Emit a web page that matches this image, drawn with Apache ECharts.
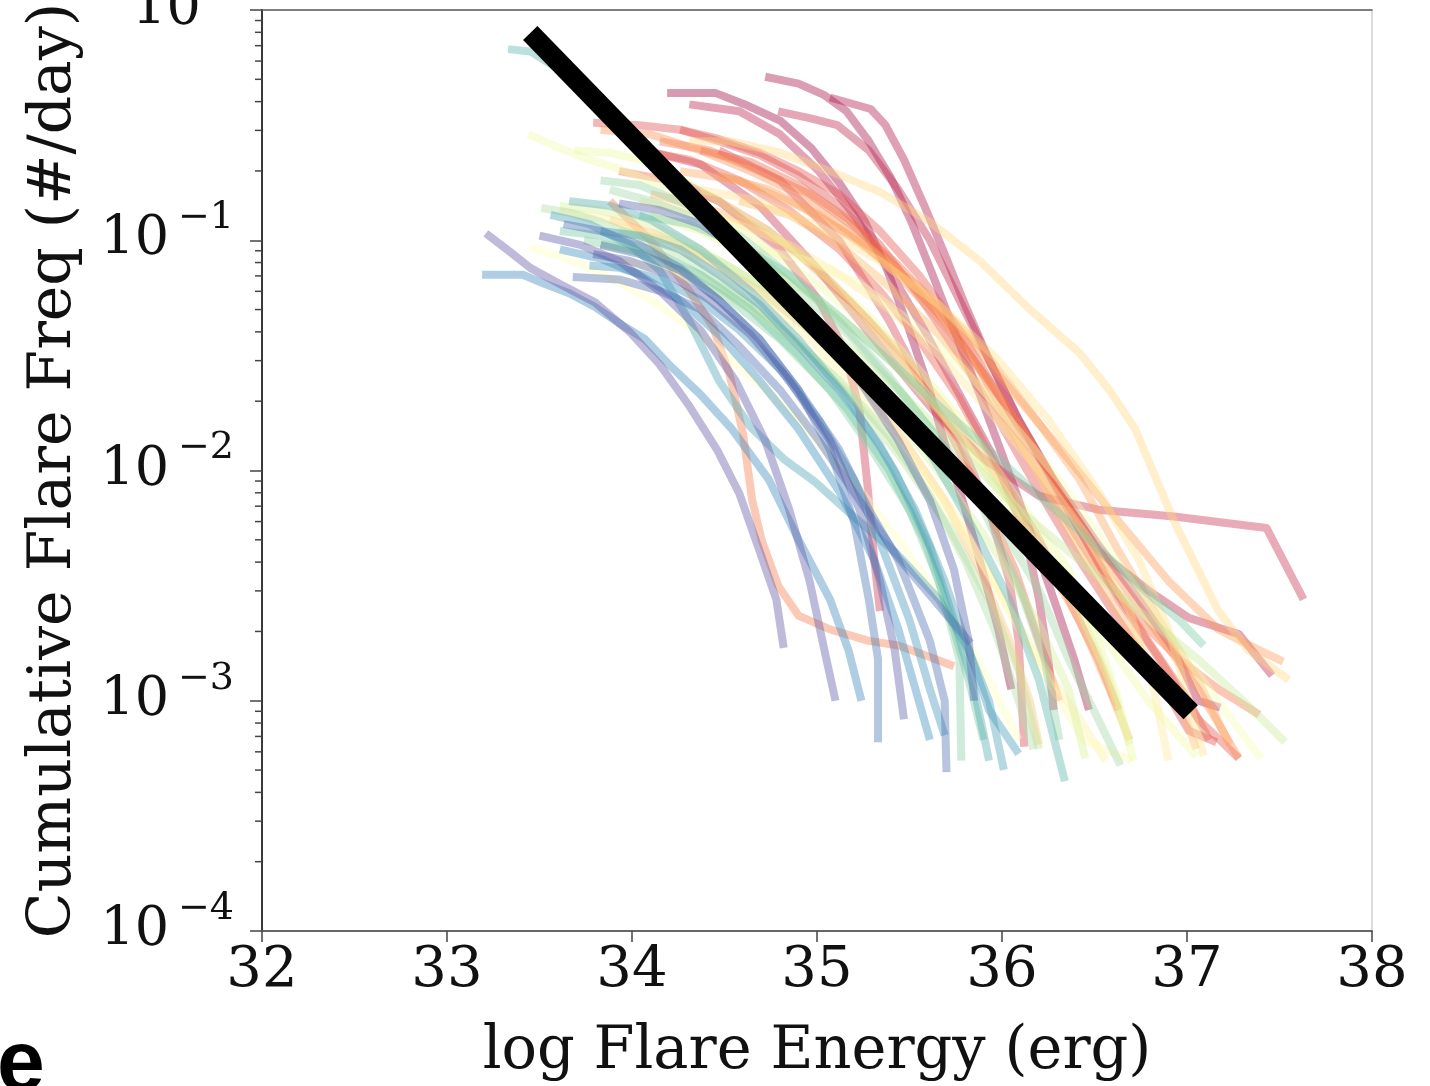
<!DOCTYPE html>
<html><head><meta charset="utf-8">
<script src="https://cdn.jsdelivr.net/npm/echarts@6/dist/echarts.min.js"></script>
<style>html,body{margin:0;padding:0;background:#fff;}#c{width:1430px;height:1086px;}</style>
</head><body><div id="c"></div>
<script>
// x: log10 flare energy (erg); y: log10 cumulative flare frequency (#/day)
const xRange = [32, 38];
const yRange = [1e-4, 1];

const redCurves = [
  [[34.19,-0.36],[34.45,-0.36],[34.61,-0.41],[34.80,-0.48],[34.97,-0.60],[35.12,-0.75],[35.26,-0.92],[35.38,-1.13],[35.49,-1.37],[35.60,-1.63],[35.70,-1.91],[35.81,-2.19],[35.90,-2.45],[35.98,-2.69],[36.05,-2.95]],
  [[34.72,-0.29],[34.90,-0.32],[35.04,-0.37],[35.16,-0.44],[35.28,-0.57],[35.40,-0.73],[35.51,-0.92],[35.62,-1.14],[35.74,-1.39],[35.88,-1.67],[36.01,-1.95],[36.15,-2.26],[36.28,-2.56],[36.39,-2.82],[36.47,-3.04]],
  [[35.07,-0.38],[35.29,-0.43],[35.37,-0.50],[35.47,-0.65],[35.58,-0.85],[35.69,-1.06],[35.80,-1.28],[35.93,-1.52],[36.09,-1.78],[36.28,-2.04],[36.50,-2.30],[36.74,-2.56],[36.93,-2.78],[37.06,-3.00],[37.18,-3.03]],
  [[34.31,-0.41],[34.58,-0.44],[34.80,-0.54],[35.01,-0.70],[35.20,-0.89],[35.39,-1.13],[35.58,-1.39],[35.77,-1.67],[35.96,-1.95],[36.12,-2.26],[36.20,-2.56],[36.25,-2.82],[36.28,-3.04]],
  [[34.79,-0.44],[34.96,-0.47],[35.11,-0.50],[35.28,-0.61],[35.44,-0.78],[35.61,-1.00],[35.77,-1.26],[35.93,-1.52],[36.09,-1.78],[36.31,-2.09],[36.52,-2.35],[36.79,-2.52],[37.01,-2.64],[37.16,-2.68],[37.28,-2.71],[37.46,-2.89]],
  [[34.07,-0.61],[34.37,-0.67],[34.69,-0.85],[35.01,-1.13],[35.34,-1.46],[35.63,-1.74],[35.90,-1.95],[36.20,-2.11],[36.52,-2.17],[36.93,-2.20],[37.43,-2.25],[37.63,-2.56]],
  [[34.15,-0.70],[34.47,-0.83],[34.80,-1.04],[35.01,-1.26],[35.15,-1.48],[35.23,-1.74],[35.27,-2.04],[35.31,-2.39],[35.34,-2.61]],
  [[34.47,-0.61],[34.80,-0.74],[35.12,-1.00],[35.39,-1.35],[35.61,-1.69],[35.77,-1.87],[35.93,-2.17],[36.04,-2.48],[36.09,-2.74],[36.12,-3.20]]
];

const salmonCurves = [
  [[33.79,-0.49],[34.04,-0.50],[34.26,-0.52],[34.47,-0.57],[34.69,-0.63],[34.90,-0.72],[35.12,-0.85],[35.34,-1.02],[35.55,-1.24],[35.77,-1.50],[35.98,-1.78],[36.20,-2.09],[36.42,-2.39],[36.63,-2.65],[36.85,-2.91],[37.01,-3.13],[37.16,-3.18]],
  [[34.26,-0.52],[34.47,-0.56],[34.69,-0.62],[34.90,-0.70],[35.12,-0.80],[35.34,-0.96],[35.55,-1.15],[35.77,-1.39],[35.98,-1.67],[36.20,-1.95],[36.42,-2.26],[36.63,-2.56],[36.85,-2.82],[37.06,-3.08],[37.28,-3.25]],
  [[34.04,-0.61],[34.31,-0.65],[34.58,-0.74],[34.85,-0.87],[35.12,-1.04],[35.34,-1.22],[35.55,-1.43],[35.77,-1.69],[35.98,-2.00],[36.20,-2.30],[36.36,-2.56],[36.52,-2.82],[36.63,-3.04]],
  [[34.37,-0.61],[34.64,-0.66],[34.90,-0.76],[35.17,-0.91],[35.44,-1.13],[35.69,-1.35],[35.93,-1.61],[36.15,-1.87],[36.36,-2.17],[36.58,-2.48],[36.79,-2.74],[37.01,-3.00],[37.12,-3.17]],
  [[33.93,-0.70],[34.20,-0.74],[34.47,-0.83],[34.74,-0.96],[35.01,-1.13],[35.28,-1.35],[35.50,-1.56],[35.71,-1.82],[35.90,-2.13],[36.07,-2.43],[36.20,-2.74],[36.31,-3.00]],
  [[34.15,-0.57],[34.42,-0.61],[34.69,-0.70],[34.96,-0.80],[35.23,-0.96],[35.44,-1.11],[35.66,-1.30],[35.88,-1.56],[36.09,-1.87],[36.31,-2.17],[36.52,-2.43],[36.74,-2.65],[36.96,-2.82],[37.17,-2.95],[37.39,-3.06]],
  [[33.88,-0.83],[34.10,-1.00],[34.31,-1.22],[34.44,-1.38],[34.53,-1.59],[34.60,-1.84],[34.65,-2.13],[34.70,-2.30],[34.79,-2.50],[34.90,-2.63],[35.07,-2.69],[35.28,-2.74],[35.44,-2.76],[35.61,-2.81],[35.74,-2.85]]
];

const orangeCurves = [
  [[33.83,-0.52],[34.10,-0.54],[34.37,-0.61],[34.64,-0.70],[34.90,-0.80],[35.17,-0.96],[35.44,-1.15],[35.71,-1.39],[35.98,-1.67],[36.25,-2.00],[36.52,-2.35],[36.79,-2.65],[37.06,-2.95],[37.28,-3.25]],
  [[34.47,-0.72],[34.74,-0.78],[35.01,-0.89],[35.28,-1.04],[35.55,-1.22],[35.82,-1.43],[36.09,-1.69],[36.36,-1.95],[36.63,-2.22],[36.90,-2.48],[37.17,-2.69],[37.39,-2.78],[37.52,-2.83]],
  [[34.26,-0.70],[34.58,-0.74],[34.90,-0.85],[35.23,-1.00],[35.55,-1.20],[35.88,-1.46],[36.15,-1.74],[36.42,-2.04],[36.63,-2.35],[36.85,-2.65],[37.06,-2.91],[37.23,-3.19]],
  [[34.10,-0.80],[34.37,-0.85],[34.64,-0.93],[34.90,-1.06],[35.17,-1.26],[35.44,-1.48],[35.71,-1.74],[35.98,-2.04],[36.20,-2.35],[36.42,-2.65],[36.58,-2.95],[36.69,-3.17]],
  [[34.58,-0.83],[34.85,-0.89],[35.12,-1.02],[35.39,-1.20],[35.66,-1.41],[35.90,-1.65],[36.15,-1.95],[36.36,-2.26],[36.58,-2.56],[36.79,-2.82],[36.96,-3.00],[37.05,-3.21]],
  [[33.88,-0.91],[34.15,-0.98],[34.42,-1.09],[34.69,-1.22],[34.96,-1.39],[35.23,-1.61],[35.47,-1.87],[35.69,-2.13],[35.88,-2.43],[36.04,-2.74],[36.15,-3.00],[36.20,-3.19]]
];

const yellowCurves = [
  [[34.31,-0.57],[34.53,-0.57],[34.80,-0.62],[35.07,-0.70],[35.34,-0.79],[35.61,-0.92],[35.88,-1.09],[36.15,-1.30],[36.42,-1.49],[36.58,-1.65],[36.72,-1.82],[36.83,-2.03],[36.93,-2.22],[37.04,-2.40],[37.17,-2.61],[37.33,-2.78],[37.55,-2.91]],
  [[34.37,-0.78],[34.69,-0.83],[35.01,-0.94],[35.34,-1.09],[35.66,-1.28],[35.98,-1.52],[36.25,-1.78],[36.52,-2.09],[36.74,-2.39],[36.90,-2.69],[37.01,-3.00],[37.09,-3.24]],
  [[34.04,-0.83],[34.31,-0.87],[34.58,-0.93],[34.85,-1.02],[35.12,-1.15],[35.39,-1.30],[35.66,-1.50],[35.93,-1.74],[36.20,-2.00],[36.47,-2.30],[36.69,-2.61],[36.82,-2.95],[36.90,-3.26]],
  [[33.61,-0.87],[33.88,-0.91],[34.15,-1.00],[34.42,-1.11],[34.69,-1.26],[34.96,-1.43],[35.23,-1.65],[35.50,-1.91],[35.77,-2.22],[35.98,-2.52],[36.20,-2.82],[36.42,-3.08],[36.56,-3.26]],
  [[33.93,-1.09],[34.20,-1.13],[34.47,-1.22],[34.74,-1.35],[35.01,-1.52],[35.28,-1.74],[35.55,-2.00],[35.82,-2.30],[36.04,-2.61],[36.25,-2.91],[36.44,-3.17],[36.70,-3.26]],
  [[33.45,-1.03],[33.61,-1.07],[33.83,-1.14],[34.10,-1.26],[34.37,-1.41],[34.64,-1.59],[34.90,-1.78],[35.17,-2.02],[35.44,-2.30],[35.71,-2.61],[35.93,-2.91],[36.09,-3.17]],
  [[34.69,-1.04],[34.96,-1.09],[35.23,-1.19],[35.50,-1.35],[35.77,-1.54],[36.04,-1.78],[36.31,-2.04],[36.58,-2.35],[36.85,-2.65],[37.12,-2.95],[37.40,-3.25]]
];

const greenCurves = [
  [[33.44,-0.54],[33.61,-0.60],[33.77,-0.65],[33.93,-0.69],[34.15,-0.76],[34.37,-0.85],[34.64,-0.98],[34.90,-1.13],[35.17,-1.30],[35.44,-1.52],[35.71,-1.78],[35.98,-2.09],[36.25,-2.39],[36.52,-2.69],[36.79,-3.00],[37.05,-3.24]],
  [[33.69,-0.61],[33.88,-0.62],[34.04,-0.65],[34.26,-0.73],[34.47,-0.83],[34.74,-0.96],[35.01,-1.13],[35.28,-1.33],[35.55,-1.56],[35.82,-1.82],[36.09,-2.13],[36.36,-2.43],[36.52,-2.74],[36.63,-3.00],[36.71,-3.26]],
  [[34.10,-0.89],[34.37,-0.96],[34.69,-1.09],[35.01,-1.26],[35.34,-1.48],[35.66,-1.74],[35.93,-2.00],[36.20,-2.30],[36.42,-2.61],[36.58,-2.91],[36.69,-3.19]],
  [[33.61,-0.85],[33.83,-0.87],[34.10,-0.93],[34.37,-1.04],[34.64,-1.17],[34.90,-1.35],[35.17,-1.54],[35.44,-1.78],[35.71,-2.06],[35.98,-2.37],[36.20,-2.67],[36.36,-2.95],[36.45,-3.25]],
  [[33.93,-0.96],[34.20,-1.00],[34.47,-1.09],[34.80,-1.24],[35.12,-1.43],[35.44,-1.65],[35.77,-1.91],[36.09,-2.17],[36.42,-2.39],[36.74,-2.61],[37.06,-2.82],[37.33,-3.02],[37.53,-3.18]],
  [[33.83,-1.02],[34.10,-1.06],[34.37,-1.15],[34.64,-1.28],[34.90,-1.46],[35.17,-1.67],[35.44,-1.93],[35.71,-2.24],[35.93,-2.56],[36.09,-2.87],[36.20,-3.21]]
];

const tealCurves = [
  [[33.51,-0.86],[33.66,-0.88],[33.83,-0.92],[34.04,-0.99],[34.31,-1.09],[34.58,-1.24],[34.85,-1.41],[35.12,-1.61],[35.39,-1.85],[35.61,-2.11],[35.80,-2.39],[35.96,-2.69],[36.09,-3.00],[36.17,-3.21]],
  [[33.88,-0.78],[34.10,-0.83],[34.37,-0.91],[34.64,-1.04],[34.90,-1.22],[35.17,-1.41],[35.44,-1.65],[35.71,-1.91],[35.98,-2.22],[36.20,-2.52],[36.36,-2.82],[36.52,-3.08],[36.64,-3.28]],
  [[33.83,-0.74],[34.04,-0.76],[34.31,-0.85],[34.58,-0.98],[34.85,-1.15],[35.12,-1.35],[35.39,-1.59],[35.66,-1.87],[35.90,-2.17],[36.09,-2.50],[36.23,-2.82],[36.31,-3.17]],
  [[33.74,-1.00],[33.99,-1.04],[34.26,-1.13],[34.53,-1.26],[34.80,-1.43],[35.07,-1.65],[35.28,-1.89],[35.50,-2.17],[35.66,-2.48],[35.77,-2.82],[35.78,-3.26]],
  [[34.04,-0.89],[34.31,-0.93],[34.58,-1.02],[34.85,-1.15],[35.12,-1.33],[35.39,-1.52],[35.66,-1.72],[35.93,-1.91],[36.20,-2.11],[36.47,-2.30],[36.74,-2.50],[36.96,-2.65],[37.09,-2.76]],
  [[33.61,-0.96],[33.83,-0.98],[34.10,-1.04],[34.37,-1.15],[34.64,-1.30],[34.90,-1.50],[35.17,-1.74],[35.39,-2.00],[35.58,-2.30],[35.71,-2.61],[35.82,-2.91],[35.90,-3.17]]
];

const blueCurves = [
  [[33.33,-0.17],[33.45,-0.18],[33.61,-0.26],[33.83,-0.44],[34.04,-0.61],[34.31,-0.78],[34.58,-1.00],[34.85,-1.22],[35.12,-1.46],[35.39,-1.69],[35.63,-1.95],[35.85,-2.26],[36.04,-2.56],[36.20,-2.91],[36.34,-3.35]],
  [[33.66,-0.83],[33.88,-0.85],[34.10,-0.91],[34.37,-1.04],[34.64,-1.22],[34.90,-1.43],[35.17,-1.69],[35.42,-2.00],[35.61,-2.33],[35.74,-2.65],[35.85,-2.95],[35.93,-3.26]],
  [[33.56,-0.89],[33.77,-0.93],[33.99,-1.02],[34.15,-1.13],[34.31,-1.35],[34.47,-1.61],[34.64,-1.81],[34.82,-1.95],[34.99,-2.05],[35.17,-2.18],[35.43,-2.36],[35.66,-2.56],[35.82,-2.78],[35.93,-3.00],[36.01,-3.30]],
  [[33.83,-0.96],[34.04,-0.98],[34.26,-1.04],[34.47,-1.15],[34.69,-1.28],[34.90,-1.46],[35.12,-1.65],[35.34,-1.89],[35.53,-2.17],[35.69,-2.48],[35.82,-2.78],[35.93,-3.04],[36.09,-3.23]],
  [[33.77,-1.11],[33.93,-1.12],[34.15,-1.17],[34.37,-1.26],[34.58,-1.39],[34.80,-1.56],[35.01,-1.78],[35.20,-2.04],[35.36,-2.35],[35.50,-2.65],[35.61,-2.95],[35.69,-3.15]],
  [[33.61,-1.04],[33.83,-1.08],[34.04,-1.15],[34.26,-1.26],[34.47,-1.41],[34.69,-1.61],[34.90,-1.82],[35.12,-2.09],[35.31,-2.39],[35.44,-2.69],[35.55,-3.00],[35.61,-3.17]],
  [[33.19,-1.15],[33.41,-1.15],[33.53,-1.19],[33.66,-1.23],[33.80,-1.29],[33.93,-1.36],[34.07,-1.43],[34.20,-1.54],[34.37,-1.67],[34.54,-1.82],[34.74,-2.04],[34.90,-2.30],[35.07,-2.56],[35.17,-2.78],[35.24,-3.00]]
];

const purpleCurves = [
  [[33.83,-1.02],[34.04,-1.06],[34.26,-1.13],[34.47,-1.26],[34.69,-1.43],[34.90,-1.65],[35.07,-1.91],[35.20,-2.22],[35.28,-2.56],[35.33,-2.82],[35.33,-3.18]],
  [[33.63,-0.93],[33.83,-0.96],[34.04,-1.02],[34.26,-1.12],[34.47,-1.26],[34.69,-1.43],[34.90,-1.65],[35.12,-1.91],[35.28,-2.17],[35.44,-2.39],[35.61,-2.74],[35.69,-3.00],[35.70,-3.31]],
  [[33.68,-1.16],[33.93,-1.17],[34.15,-1.22],[34.37,-1.30],[34.58,-1.46],[34.80,-1.65],[35.01,-1.87],[35.23,-2.13],[35.44,-2.38],[35.63,-2.56],[35.83,-2.75]],
  [[33.93,-0.84],[34.15,-0.87],[34.37,-0.93],[34.58,-1.04],[34.80,-1.19],[35.01,-1.39],[35.23,-1.61],[35.44,-1.87],[35.61,-2.13],[35.74,-2.43],[35.82,-2.74],[35.85,-3.00]],
  [[33.79,-1.06],[33.99,-1.09],[34.20,-1.15],[34.42,-1.26],[34.64,-1.41],[34.85,-1.61],[35.07,-1.87],[35.23,-2.17],[35.34,-2.48],[35.42,-2.78],[35.47,-3.08]],
  [[33.50,-0.98],[33.72,-1.02],[33.93,-1.09],[34.15,-1.22],[34.37,-1.39],[34.56,-1.61],[34.72,-1.87],[34.85,-2.17],[34.96,-2.48],[35.04,-2.78],[35.10,-3.00]],
  [[33.21,-0.97],[33.34,-1.05],[33.45,-1.12],[33.61,-1.19],[33.80,-1.27],[33.99,-1.40],[34.15,-1.54],[34.31,-1.72],[34.46,-1.91],[34.58,-2.10],[34.69,-2.35],[34.78,-2.56],[34.82,-2.77]]
];

// power-law fit (log E, log freq)
const fitLine = [[33.45,-0.10],[37.02,-3.05]];

// ---- styling helpers ----
const SPECTRAL = ['#9e0142','#d53e4f','#f46d43','#fdae61','#fee08b','#ffffbf','#e6f598','#abdda4','#66c2a5','#3288bd','#5e4fa2'];
function hex(h){return [parseInt(h.slice(1,3),16),parseInt(h.slice(3,5),16),parseInt(h.slice(5,7),16)];}
function cmap(t){
  const n = SPECTRAL.length-1, f = Math.min(n-1e-9, Math.max(0,t*n)), i = Math.floor(f), r = f-i;
  const a = hex(SPECTRAL[i]), b = hex(SPECTRAL[i+1]);
  return 'rgb('+a.map((v,k)=>Math.round(v+(b[k]-v)*r)).join(',')+')';
}
const toPt = p => [p[0], Math.pow(10, p[1])];

const groups = [
  [redCurves, 0.00, 0.10], [salmonCurves, 0.13, 0.22], [orangeCurves, 0.25, 0.34],
  [yellowCurves, 0.38, 0.53], [greenCurves, 0.56, 0.67], [tealCurves, 0.70, 0.79],
  [blueCurves, 0.83, 0.91], [purpleCurves, 0.94, 1.00]
];
const series = [];
groups.forEach(([list, t0, t1]) => list.forEach((c, i) => {
  const t = list.length > 1 ? t0 + (t1 - t0) * i / (list.length - 1) : t0;
  series.push({type:'line', data:c.map(toPt), showSymbol:false, silent:true, animation:false, z:2,
    lineStyle:{color:cmap(t), width:8, opacity:0.4, join:'round'}});
}));
series.push({type:'line', data:fitLine.map(toPt), showSymbol:false, silent:true, animation:false, z:5,
  lineStyle:{color:'#000', width:20, cap:'butt'}});

// log minor ticks on y
const minorVals = [];
for (let d=-4; d<0; d++) for (let k=2; k<=9; k++) minorVals.push([xRange[0], k*Math.pow(10,d)]);
series.push({type:'custom', coordinateSystem:'cartesian2d', clip:false, silent:true, animation:false, z:10,
  data:minorVals,
  renderItem:(params,api)=>{const p=api.coord([api.value(0),api.value(1)]);
    return {type:'line', shape:{x1:p[0]-7,y1:p[1],x2:p[0],y2:p[1]}, style:{stroke:'#444',lineWidth:1.5}};}
});

const SERIF = '"DejaVu Serif", serif';
const chart = echarts.init(document.getElementById('c'), null, {renderer:'canvas'});
chart.setOption({
  backgroundColor:'#fff',
  animation:false,
  grid:{left:262, right:58, top:10, bottom:155, show:false, containLabel:false, outerBoundsMode:'none'},
  xAxis:[{
    type:'value', min:xRange[0], max:xRange[1], interval:1,
    name:'log Flare Energy (erg)', nameLocation:'middle', nameGap:92,
    nameTextStyle:{fontFamily:SERIF, fontSize:59, color:'#111'},
    axisLine:{show:true, lineStyle:{color:'#666', width:2}},
    axisTick:{show:true, inside:false, length:11, lineStyle:{color:'#444', width:1.5}},
    axisLabel:{fontFamily:SERIF, fontSize:56, color:'#111', margin:12, showMinLabel:true, showMaxLabel:true},
    splitLine:{show:false}
  },{
    type:'value', position:'top', min:xRange[0], max:xRange[1],
    axisLine:{show:true, lineStyle:{color:'#555', width:1.5}},
    axisTick:{show:false}, axisLabel:{show:false}, splitLine:{show:false}
  }],
  yAxis:[{
    type:'log', logBase:10, min:yRange[0], max:yRange[1],
    name:'Cumulative Flare Freq (#/day)', nameLocation:'middle', nameGap:178, nameRotate:90,
    nameTextStyle:{fontFamily:SERIF, fontSize:60, color:'#111'},
    axisLine:{show:true, lineStyle:{color:'#3a3a3a', width:2}},
    axisTick:{show:true, inside:false, length:12, lineStyle:{color:'#444', width:1.5}},
    axisLabel:{
      margin:28, showMinLabel:true, showMaxLabel:true,
      formatter:v=>{const e=Math.round(Math.log10(v)); return '{b|10}{s|'+(e<0?'\u2212'+(-e):e)+'}';},
      rich:{
        b:{fontFamily:SERIF, fontSize:54, color:'#111'},
        s:{fontFamily:SERIF, fontSize:38, color:'#111', padding:[0,0,44,9]}
      }
    },
    splitLine:{show:false}
  },{
    type:'log', logBase:10, position:'right', min:yRange[0], max:yRange[1],
    axisLine:{show:true, lineStyle:{color:'#d0d0d0', width:1.5}},
    axisTick:{show:false}, axisLabel:{show:false}, splitLine:{show:false}
  }],
  graphic:[{type:'text', left:-3, top:1023, silent:true,
    style:{text:'e', font:'bold 86px "Liberation Sans", Arial, sans-serif', fill:'#000'}}],
  series:series
});
</script></body></html>
